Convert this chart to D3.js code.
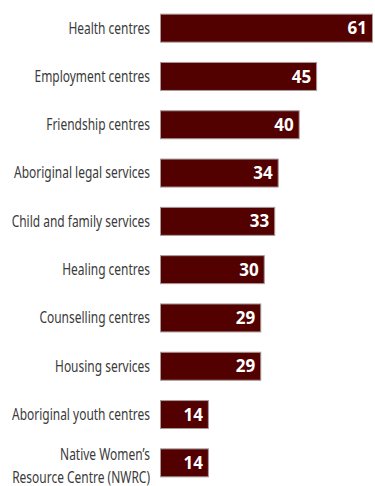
<!DOCTYPE html>
<html>
<head>
<meta charset="utf-8">
<script src="https://cdn.jsdelivr.net/npm/d3@7"></script>
<style>
  body { margin: 0; background: #fff; }
  .label { font-family: "Noto Sans", sans-serif; font-size: 16.5px; fill: #3a3a3a; }
  .value { font-family: "Open Sans", sans-serif; font-weight: 700; font-size: 17px; fill: #fff; }
</style>
</head>
<body>
<div id="chart"></div>
<script>
const categories = [
  ["Health centres"],
  ["Employment centres"],
  ["Friendship centres"],
  ["Aboriginal legal services"],
  ["Child and family services"],
  ["Healing centres"],
  ["Counselling centres"],
  ["Housing services"],
  ["Aboriginal youth centres"],
  ["Native Women’s", "Resource Centre (NWRC)"]
];
const values = [61, 45, 40, 34, 33, 30, 29, 29, 14, 14];

const width = 375, height = 486;
const left = 160;
const labelRight = 150;

const x = d3.scaleLinear().domain([0, 61]).range([left, 373]);
const y = d3.scaleBand()
  .domain(d3.range(values.length))
  .range([4, 487])
  .paddingInner(0.4)
  .paddingOuter(0.2);

const svg = d3.select("#chart")
  .append("svg")
    .attr("width", width)
    .attr("height", height);

const rows = svg.selectAll("g.row")
  .data(values)
  .enter()
  .append("g")
    .attr("class", "row")
    .attr("transform", (d, i) => "translate(0," + y(i) + ")");

rows.append("rect")
  .attr("x", x(0) + 0.5)
  .attr("y", 0.5)
  .attr("width", d => x(d) - x(0) - 1)
  .attr("height", y.bandwidth() - 1)
  .attr("fill", "#520000")
  .attr("stroke", "#a89a9a")
  .attr("stroke-width", 1);

rows.append("text")
  .attr("class", "value")
  .attr("x", d => x(d) - 6)
  .attr("y", y.bandwidth() / 2)
  .attr("dy", "0.36em")
  .attr("text-anchor", "end")
  .text(d => d);

// labels in a condensed look: squeeze horizontally
const labels = rows.append("g")
  .attr("class", "lab");

labels.append("text")
  .attr("class", "label")
  .attr("text-anchor", "end")
  .attr("x", 0)
  .attr("y", y.bandwidth() / 2)
  .each(function(d, i) {
    const lines = categories[i];
    const t = d3.select(this);
    lines.forEach((s, j) => {
      t.append("tspan")
        .attr("x", 0)
        .attr("dy", j === 0 ? (lines.length === 1 ? "0.33em" : "-0.2em") : "1.4em")
        .text(s);
    });
  });

// scale so "Aboriginal legal services" is ~136px wide like the reference
const ref = labels.filter((d, i) => i === 3).select("text").node().getComputedTextLength();
const k = 136 / ref;
labels.attr("transform", "translate(" + labelRight + ",0) scale(" + k + ",1)");
</script>
</body>
</html>
